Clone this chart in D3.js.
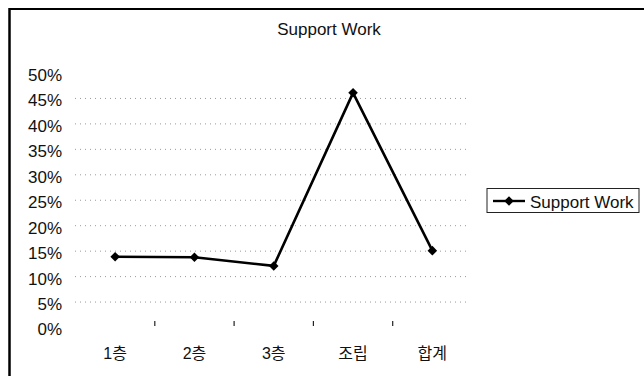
<!DOCTYPE html>
<html>
<head>
<meta charset="utf-8">
<script src="https://cdn.jsdelivr.net/npm/d3@7"></script>
<style>
  html, body { margin: 0; padding: 0; background: #fff; }
  svg { display: block; }
  text { font-family: "Liberation Sans", Arial, "Noto Sans CJK KR", sans-serif; fill: #111; }
</style>
</head>
<body>
<svg id="chart" width="644" height="376"></svg>
<script>
// Share of support work by section
const categories = ["1층", "2층", "3층", "조립", "합계"];
const seriesName = "Support Work";
const values = [0.139, 0.138, 0.121, 0.461, 0.151];
const yTicks = [0, 0.05, 0.1, 0.15, 0.2, 0.25, 0.3, 0.35, 0.4, 0.45, 0.5];
const gridTicks = [0.05, 0.1, 0.15, 0.2, 0.25, 0.3, 0.35, 0.4, 0.45];

const svg = d3.select("#chart");
const W = 644, H = 376;
const fontSize = 17;

// outer frame (left and top edges)
svg.append("line").attr("x1", 9).attr("y1", 9).attr("x2", W).attr("y2", 9)
  .attr("stroke", "#000").attr("stroke-width", 2);
svg.append("line").attr("x1", 9.5).attr("y1", 8).attr("x2", 9.5).attr("y2", H)
  .attr("stroke", "#000").attr("stroke-width", 2.5);

const x = d3.scaleBand().domain(categories).range([75.5, 472]).padding(0);
const y = d3.scaleLinear().domain([0, 0.5]).range([327.5, 73]);
const cx = d => x(d) + x.bandwidth() / 2;

// title
svg.append("text")
  .attr("x", 329).attr("y", 35)
  .attr("text-anchor", "middle")
  .attr("font-size", fontSize)
  .text(seriesName);

// dotted gridlines
svg.append("g").selectAll("line").data(gridTicks).join("line")
  .attr("x1", 75).attr("x2", 470)
  .attr("y1", d => y(d)).attr("y2", d => y(d))
  .attr("stroke", "#9a9a9a").attr("stroke-width", 1)
  .attr("stroke-dasharray", "1,4");

// y axis labels (no axis line)
const yAxis = svg.append("g").attr("transform", "translate(62,0)")
  .call(d3.axisLeft(y).tickValues(yTicks).tickFormat(d3.format(".0%")).tickSize(0).tickPadding(0));
yAxis.select(".domain").remove();
yAxis.selectAll("text")
  .attr("font-size", fontSize)
  .attr("font-family", null)
  .attr("x", 0)
  .attr("dy", "0.44em")
  .style("fill", "#111");

// x axis: interior tick marks and category labels
const bounds = categories.slice(1).map(c => x(c));
svg.append("g").selectAll("line").data(bounds).join("line")
  .attr("x1", d => d).attr("x2", d => d)
  .attr("y1", 321).attr("y2", 326)
  .attr("stroke", "#222").attr("stroke-width", 1.2);

svg.append("g").selectAll("text").data(categories).join("text")
  .attr("x", d => cx(d)).attr("y", 359)
  .attr("text-anchor", "middle")
  .attr("font-size", 16)
  .text(d => d);

// data line
const line = d3.line().x((d, i) => cx(categories[i])).y(d => y(d));
svg.append("path").datum(values)
  .attr("d", line)
  .attr("fill", "none").attr("stroke", "#000").attr("stroke-width", 2.6)
  .attr("stroke-linejoin", "round");

const diamond = d3.symbol().type(d3.symbolDiamond2).size(58);
svg.append("g").selectAll("path").data(values).join("path")
  .attr("transform", (d, i) => `translate(${cx(categories[i])},${y(d)})`)
  .attr("d", diamond)
  .attr("fill", "#000");

// legend
const lg = svg.append("g");
lg.append("rect").attr("x", 487).attr("y", 188.5).attr("width", 152).attr("height", 24)
  .attr("fill", "#fff").attr("stroke", "#222").attr("stroke-width", 1);
lg.append("line").attr("x1", 493).attr("x2", 525).attr("y1", 201).attr("y2", 201)
  .attr("stroke", "#000").attr("stroke-width", 2.4);
lg.append("path").attr("transform", "translate(509,201)").attr("d", diamond).attr("fill", "#000");
lg.append("text")
  .attr("x", 530).attr("y", 207.5)
  .attr("font-size", fontSize)
  .text(seriesName);
</script>
</body>
</html>
